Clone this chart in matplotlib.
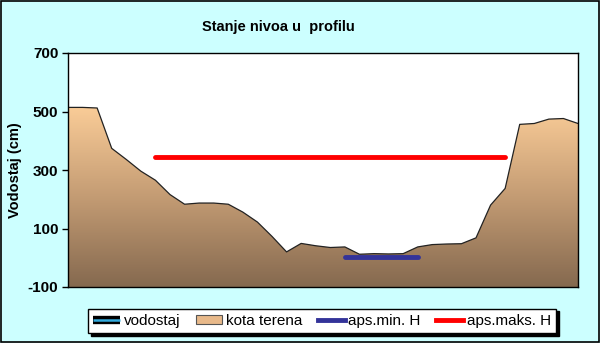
import numpy as np
import matplotlib.pyplot as plt
from matplotlib.patches import Polygon, Rectangle, Patch
from matplotlib.colors import LinearSegmentedColormap
from matplotlib.lines import Line2D
from matplotlib.legend_handler import HandlerTuple

plt.rcParams['font.family'] = ['Liberation Sans', 'DejaVu Sans']

# terrain profile (kota terena), 36 evenly spaced points
kota_terena = [514, 514, 512, 374, 336, 296, 265, 216, 183, 187, 187, 183,
               156, 122, 73, 20, 49, 41, 35, 37, 12, 14, 13, 14, 37, 45,
               47, 48, 68, 180, 237, 456, 459, 474, 476, 459]
aps_min_h = 3
aps_min_range = (19, 24)
aps_maks_h = 345
aps_maks_range = (6, 30)

title = "Stanje nivoa u  profilu"
ylabel = "Vodostaj (cm)"
yticks = [-100, 100, 300, 500, 700]

x = np.arange(len(kota_terena))

fig = plt.figure(figsize=(6, 3.43), dpi=100)
fig.patch.set_facecolor('#CCFFFF')
ax = fig.add_axes([68 / 600, 56 / 343, 510 / 600, 234 / 343])
ax.set_facecolor('white')
ax.set_xlim(0, len(kota_terena) - 1)
ax.set_ylim(-100, 700)

# gradient fill for terrain
cmap = LinearSegmentedColormap.from_list('terr', ['#85694F', '#C49C74', '#FBCD98'])
grad = np.linspace(0, 1, 256).reshape(-1, 1)
img = ax.imshow(grad, aspect='auto', cmap=cmap, origin='lower',
                extent=[0, len(kota_terena) - 1, -100, 520], zorder=1)
verts = [(0, -100)] + list(zip(x, kota_terena)) + [(len(kota_terena) - 1, -100)]
poly = Polygon(verts, closed=True, facecolor='none', edgecolor='none')
ax.add_patch(poly)
img.set_clip_path(poly)
ax.plot(x, kota_terena, color='#222222', lw=0.9, zorder=2)

ax.plot(aps_min_range, [aps_min_h, aps_min_h], color='#333399', lw=3.5,
        solid_capstyle='round', zorder=3)
ax.plot(aps_maks_range, [aps_maks_h, aps_maks_h], color='#FF0000', lw=3.5,
        solid_capstyle='round', zorder=3)

ax.set_xticks([])
ax.set_yticks(yticks)
ax.set_yticklabels([str(v) for v in yticks], fontsize=11, fontweight='bold')
ax.tick_params(axis='y', length=4, width=1, pad=3)
for s in ax.spines.values():
    s.set_linewidth(1)
ax.set_ylabel(ylabel, fontsize=10.5, fontweight='bold')
ax.yaxis.set_label_coords(-0.09, 0.5)

fig.text(278 / 600, 1 - 27 / 343, title, ha='center', va='center',
         fontsize=10.5, fontweight='bold')

# legend
vodostaj_handle = (Line2D([0], [0], color='black', lw=6, solid_capstyle='butt'),
                   Line2D([0], [0], color='#33AADD', lw=1.8, solid_capstyle='butt'))
handles = [
    vodostaj_handle,
    Patch(facecolor='#E8B98A', edgecolor='#555555', lw=0.8),
    Line2D([0], [0], color='#333399', lw=3.5),
    Line2D([0], [0], color='#FF0000', lw=3.5),
]
labels = ["vodostaj", "kota terena", "aps.min. H", "aps.maks. H"]
leg = fig.legend(handles, labels, loc='center', bbox_to_anchor=(322 / 600, 1 - 321 / 343),
                 ncol=4, fontsize=11, frameon=True, fancybox=False,
                 shadow={'color': 'black', 'alpha': 1},
                 handlelength=1.75, handleheight=0.45, handletextpad=0.25, columnspacing=1.0,
                 borderpad=0.35, edgecolor='black',
                 handler_map={tuple: HandlerTuple(ndivide=1, pad=0)})
leg.get_frame().set_linewidth(1)

fig.patches.append(Rectangle((0.001, 0.002), 0.997, 0.995, transform=fig.transFigure,
                             fill=False, edgecolor='black', lw=1.2))

fig.savefig('out.png', dpi=100, facecolor=fig.get_facecolor())
